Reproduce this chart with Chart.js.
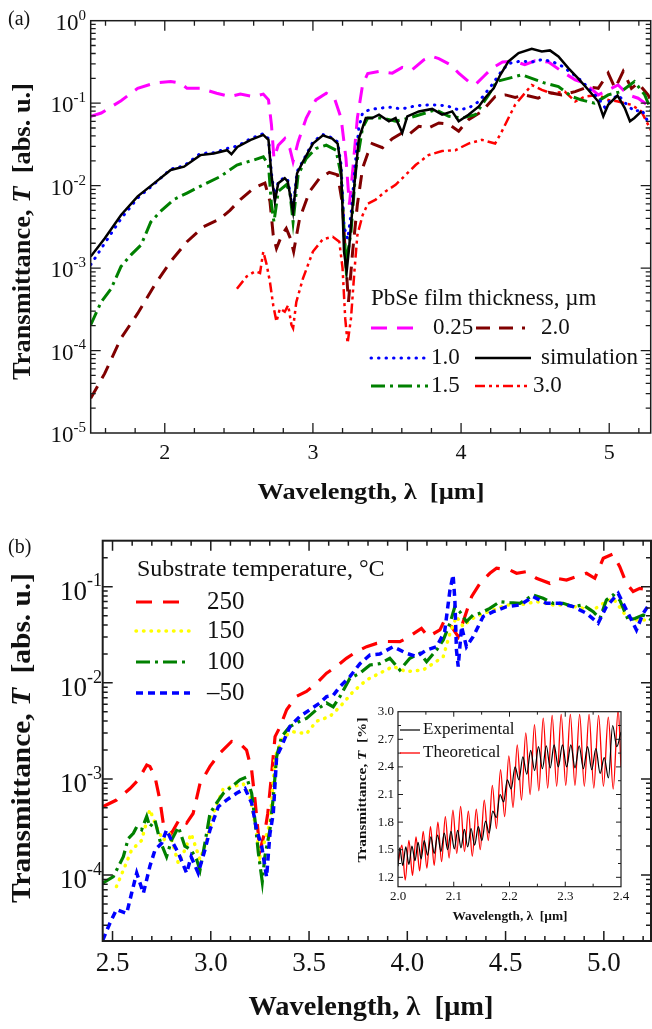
<!DOCTYPE html>
<html>
<head>
<meta charset="utf-8">
<script src="https://cdn.jsdelivr.net/npm/chart.js@4.4.1/dist/chart.umd.min.js"></script>
<style>
  body { margin: 0; background: #fff; }
  #wrap { position: relative; width: 652px; height: 1029px; overflow: hidden; }
  canvas { position: absolute; }
</style>
</head>
<body>
<div id="wrap">
  <canvas id="chartA" width="652" height="520" style="left:0;top:0"></canvas>
  <canvas id="chartB" width="652" height="509" style="left:0;top:520px"></canvas>
  <canvas id="chartIn" width="290" height="240" style="left:340px;top:695px"></canvas>
</div>
<script>
const SERIF = '"Liberation Serif", "Times New Roman", serif'
const f = (size, style = '') => `${style} ${size}px ${SERIF}`.trim()

// (a) PbSe film thickness series: [wavelength um, log10 T]
const film025 = [[1.5,-1.16],[1.571,-1.12],[1.705,-0.97],[1.817,-0.82],[1.93,-0.757],[2.04,-0.737],[2.107,-0.757],[2.15,-0.82],[2.24,-0.82],[2.35,-0.88],[2.44,-0.92],[2.51,-0.89],[2.6,-0.92],[2.665,-0.89],[2.7,-0.96],[2.72,-1.26],[2.737,-1.67],[2.766,-1.51],[2.81,-1.43],[2.844,-1.55],[2.866,-1.71],[2.9,-1.47],[2.955,-1.18],[3.02,-0.96],[3.09,-0.88],[3.145,-0.94],[3.19,-1.18],[3.223,-1.67],[3.246,-2.23],[3.268,-1.83],[3.3,-1.18],[3.335,-0.78],[3.37,-0.64],[3.446,-0.615],[3.536,-0.636],[3.603,-0.567],[3.67,-0.595],[3.749,-0.474],[3.805,-0.433],[3.85,-0.46],[3.928,-0.534],[3.984,-0.636],[4.05,-0.737],[4.096,-0.777],[4.152,-0.676],[4.21,-0.575],[4.28,-0.5],[4.365,-0.494],[4.43,-0.534],[4.5,-0.486],[4.59,-0.5],[4.68,-0.615],[4.77,-0.717],[4.836,-0.757],[4.926,-0.9],[4.993,-0.84],[5.06,-0.78],[5.128,-0.9],[5.195,-0.94],[5.273,-1.04]]
const film10 = [[1.5,-2.96],[1.594,-2.7],[1.705,-2.4],[1.817,-2.15],[1.929,-1.98],[2.04,-1.8],[2.13,-1.76],[2.24,-1.61],[2.33,-1.6],[2.42,-1.55],[2.49,-1.52],[2.58,-1.43],[2.665,-1.37],[2.7,-1.43],[2.72,-1.85],[2.743,-2.15],[2.766,-1.95],[2.81,-1.9],[2.83,-1.93],[2.866,-2.28],[2.893,-1.83],[2.933,-1.7],[3.0,-1.47],[3.067,-1.38],[3.13,-1.42],[3.167,-1.47],[3.19,-1.75],[3.21,-2.5],[3.235,-2.65],[3.26,-2.3],[3.285,-1.75],[3.31,-1.3],[3.335,-1.12],[3.38,-1.08],[3.45,-1.06],[3.52,-1.05],[3.6,-1.07],[3.7,-1.03],[3.8,-1.02],[3.9,-1.03],[3.98,-1.08],[4.05,-1.06],[4.12,-0.98],[4.2,-0.8],[4.27,-0.62],[4.32,-0.52],[4.4,-0.49],[4.48,-0.5],[4.55,-0.47],[4.62,-0.5],[4.68,-0.55],[4.75,-0.64],[4.82,-0.74],[4.88,-0.86],[4.93,-0.95],[4.97,-1.05],[5.0,-0.98],[5.06,-0.9],[5.12,-1.02],[5.17,-1.1],[5.22,-1.08],[5.26,-1.22]]
const film15 = [[1.5,-3.69],[1.571,-3.41],[1.638,-3.25],[1.705,-2.98],[1.772,-2.84],[1.84,-2.72],[1.906,-2.44],[1.973,-2.31],[2.06,-2.17],[2.15,-2.09],[2.26,-1.99],[2.375,-1.89],[2.487,-1.75],[2.6,-1.69],[2.665,-1.65],[2.7,-1.75],[2.72,-2.23],[2.737,-2.44],[2.766,-2.07],[2.82,-1.99],[2.844,-2.07],[2.866,-2.44],[2.9,-1.87],[2.955,-1.67],[3.02,-1.55],[3.09,-1.51],[3.156,-1.57],[3.19,-1.87],[3.223,-2.96],[3.257,-2.56],[3.29,-1.79],[3.335,-1.3],[3.37,-1.18],[3.47,-1.18],[3.558,-1.22],[3.648,-1.18],[3.76,-1.12],[3.827,-1.08],[3.917,-1.16],[4.007,-1.18],[4.096,-1.14],[4.186,-0.9],[4.24,-0.737],[4.32,-0.7],[4.41,-0.656],[4.477,-0.7],[4.567,-0.757],[4.657,-0.8],[4.747,-0.92],[4.81,-0.96],[4.9,-1.0],[4.993,-0.9],[5.08,-0.86],[5.17,-0.737],[5.24,-0.9],[5.285,-1.1]]
const film20 = [[1.5,-4.58],[1.594,-4.28],[1.705,-3.85],[1.817,-3.55],[1.93,-3.21],[2.04,-2.92],[2.15,-2.68],[2.26,-2.5],[2.375,-2.4],[2.44,-2.3],[2.51,-2.17],[2.6,-2.03],[2.676,-1.97],[2.71,-2.19],[2.732,-2.6],[2.754,-2.76],[2.79,-2.6],[2.82,-2.52],[2.848,-2.64],[2.87,-2.8],[2.91,-2.4],[2.978,-2.07],[3.045,-1.91],[3.11,-1.84],[3.167,-1.87],[3.2,-2.23],[3.223,-2.96],[3.24,-3.41],[3.268,-2.8],[3.3,-2.23],[3.335,-1.79],[3.37,-1.61],[3.4,-1.49],[3.47,-1.54],[3.536,-1.43],[3.603,-1.36],[3.648,-1.38],[3.715,-1.28],[3.78,-1.3],[3.85,-1.24],[3.917,-1.255],[3.984,-1.34],[4.05,-1.2],[4.14,-1.1],[4.23,-0.92],[4.3,-0.9],[4.365,-0.93],[4.43,-0.9],[4.52,-0.94],[4.59,-0.87],[4.68,-0.9],[4.77,-0.86],[4.86,-0.8],[4.926,-0.82],[4.993,-0.636],[5.04,-0.82],[5.094,-0.615],[5.15,-0.82],[5.195,-0.757],[5.262,-0.9],[5.285,-0.98]]
const film30 = [[2.487,-3.25],[2.554,-3.1],[2.61,-3.04],[2.643,-3.06],[2.665,-2.8],[2.688,-2.96],[2.71,-3.17],[2.732,-3.45],[2.754,-3.65],[2.777,-3.49],[2.81,-3.53],[2.833,-3.45],[2.855,-3.69],[2.866,-3.73],[2.888,-3.41],[2.933,-3.125],[3.0,-2.8],[3.067,-2.65],[3.134,-2.62],[3.178,-2.68],[3.2,-3.0],[3.218,-3.61],[3.234,-3.91],[3.257,-3.61],[3.28,-3.04],[3.3,-2.6],[3.335,-2.36],[3.37,-2.22],[3.424,-2.17],[3.49,-2.07],[3.558,-1.99],[3.626,-1.87],[3.693,-1.75],[3.78,-1.63],[3.872,-1.58],[3.962,-1.57],[4.05,-1.49],[4.14,-1.445],[4.23,-1.49],[4.276,-1.34],[4.32,-1.18],[4.365,-1.02],[4.43,-0.88],[4.477,-0.78],[4.545,-0.84],[4.61,-0.88],[4.7,-0.86],[4.77,-0.98],[4.836,-0.92],[4.926,-0.9],[4.993,-0.96],[5.06,-0.98],[5.15,-1.02],[5.217,-1.1],[5.285,-1.34]]
const simulation = [[1.5,-2.86],[1.594,-2.64],[1.705,-2.356],[1.817,-2.13],[1.929,-1.97],[2.04,-1.81],[2.13,-1.77],[2.24,-1.63],[2.33,-1.61],[2.42,-1.57],[2.45,-1.62],[2.49,-1.53],[2.58,-1.445],[2.665,-1.385],[2.7,-1.445],[2.72,-1.87],[2.743,-2.19],[2.766,-1.97],[2.81,-1.91],[2.83,-1.95],[2.866,-2.32],[2.893,-1.85],[2.933,-1.71],[3.0,-1.49],[3.067,-1.39],[3.13,-1.43],[3.167,-1.49],[3.19,-1.79],[3.21,-2.8],[3.228,-3.04],[3.246,-2.72],[3.28,-1.99],[3.31,-1.43],[3.357,-1.18],[3.4,-1.18],[3.446,-1.14],[3.513,-1.22],[3.558,-1.18],[3.603,-1.36],[3.637,-1.16],[3.715,-1.1],[3.805,-1.07],[3.872,-1.14],[3.94,-1.1],[3.984,-1.22],[4.05,-1.14],[4.12,-1.04],[4.16,-0.94],[4.22,-0.82],[4.265,-0.656],[4.32,-0.494],[4.388,-0.393],[4.477,-0.34],[4.545,-0.372],[4.6,-0.36],[4.657,-0.433],[4.724,-0.575],[4.79,-0.7],[4.86,-0.84],[4.926,-0.98],[4.96,-1.16],[4.993,-1.02],[5.056,-0.907],[5.105,-1.06],[5.14,-1.22],[5.17,-1.18],[5.217,-1.1]]

// (b) substrate temperature series: [wavelength um, log10 T]
const temp250 = [[2.45,-3.29],[2.52,-3.22],[2.589,-3.1],[2.631,-3.01],[2.674,-2.855],[2.69,-2.87],[2.716,-2.977],[2.741,-3.22],[2.758,-3.46],[2.8,-3.566],[2.843,-3.41],[2.877,-3.46],[2.91,-3.36],[2.945,-3.05],[2.996,-2.87],[3.047,-2.73],[3.106,-2.61],[3.148,-2.63],[3.182,-2.7],[3.208,-2.91],[3.225,-3.22],[3.25,-3.75],[3.275,-3.55],[3.29,-3.36],[3.31,-2.94],[3.327,-2.56],[3.352,-2.46],[3.386,-2.28],[3.437,-2.14],[3.487,-2.09],[3.538,-2.005],[3.589,-1.9],[3.64,-1.83],[3.69,-1.745],[3.742,-1.675],[3.793,-1.624],[3.844,-1.59],[3.894,-1.57],[3.962,-1.572],[3.996,-1.537],[4.072,-1.433],[4.106,-1.52],[4.166,-1.45],[4.19,-1.346],[4.225,-1.415],[4.259,-1.52],[4.293,-1.31],[4.327,-1.103],[4.37,-0.965],[4.42,-0.86],[4.454,-0.808],[4.522,-0.826],[4.556,-0.86],[4.606,-0.843],[4.657,-0.912],[4.725,-0.965],[4.759,-0.912],[4.81,-0.93],[4.86,-0.895],[4.912,-0.86],[4.954,-0.912],[4.997,-0.704],[5.047,-0.66],[5.081,-0.791],[5.115,-0.965],[5.149,-1.05],[5.183,-1.017],[5.234,-1.034]]
const temp150 = [[2.52,-4.12],[2.555,-3.95],[2.597,-3.74],[2.648,-3.64],[2.69,-3.32],[2.724,-3.5],[2.758,-3.64],[2.792,-3.57],[2.835,-3.88],[2.868,-3.74],[2.9,-3.57],[2.945,-3.84],[2.979,-3.64],[3.013,-3.36],[3.064,-3.1],[3.114,-3.08],[3.165,-3.05],[3.199,-3.18],[3.225,-3.46],[3.25,-3.81],[3.275,-3.64],[3.301,-3.46],[3.327,-2.77],[3.369,-2.56],[3.42,-2.51],[3.487,-2.53],[3.538,-2.4],[3.606,-2.35],[3.657,-2.25],[3.725,-2.09],[3.793,-1.97],[3.86,-1.9],[3.928,-1.83],[3.996,-1.884],[4.081,-1.866],[4.132,-1.8],[4.183,-1.727],[4.217,-1.485],[4.25,-1.31],[4.284,-1.415],[4.318,-1.346],[4.369,-1.294],[4.437,-1.242],[4.505,-1.19],[4.573,-1.19],[4.657,-1.155],[4.742,-1.19],[4.81,-1.19],[4.895,-1.225],[4.946,-1.242],[4.997,-1.173],[5.047,-1.12],[5.115,-1.31],[5.166,-1.346],[5.217,-1.346]]
const temp100 = [[2.45,-4.086],[2.504,-4.017],[2.555,-3.81],[2.58,-3.62],[2.606,-3.566],[2.623,-3.5],[2.648,-3.53],[2.674,-3.39],[2.69,-3.5],[2.716,-3.43],[2.741,-3.64],[2.775,-3.81],[2.8,-3.64],[2.835,-3.5],[2.868,-3.7],[2.9,-3.74],[2.928,-3.84],[2.945,-3.95],[2.97,-3.67],[2.996,-3.36],[3.03,-3.25],[3.064,-3.15],[3.106,-3.08],[3.148,-3.01],[3.182,-2.98],[3.208,-3.15],[3.225,-3.43],[3.242,-3.77],[3.262,-4.07],[3.275,-3.81],[3.301,-3.53],[3.318,-3.19],[3.335,-2.77],[3.36,-2.56],[3.402,-2.456],[3.453,-2.4],[3.487,-2.37],[3.538,-2.28],[3.589,-2.21],[3.623,-2.25],[3.657,-2.144],[3.708,-1.953],[3.759,-1.9],[3.81,-1.814],[3.86,-1.8],[3.911,-1.745],[3.962,-1.866],[4.013,-1.745],[4.064,-1.693],[4.098,-1.78],[4.149,-1.658],[4.183,-1.554],[4.217,-1.38],[4.242,-1.207],[4.267,-1.26],[4.301,-1.363],[4.335,-1.294],[4.369,-1.277],[4.42,-1.225],[4.471,-1.155],[4.522,-1.166],[4.573,-1.173],[4.64,-1.086],[4.691,-1.12],[4.742,-1.173],[4.793,-1.173],[4.844,-1.207],[4.895,-1.19],[4.946,-1.26],[4.98,-1.33],[5.013,-1.138],[5.047,-1.086],[5.081,-1.138],[5.124,-1.346],[5.158,-1.33],[5.2,-1.294],[5.242,-1.346]]
const tempM50 = [[2.45,-4.68],[2.487,-4.5],[2.52,-4.36],[2.572,-4.4],[2.597,-4.19],[2.623,-3.98],[2.657,-4.19],[2.69,-3.91],[2.716,-3.74],[2.75,-3.67],[2.775,-3.53],[2.8,-3.64],[2.835,-3.77],[2.877,-3.98],[2.9,-3.81],[2.936,-3.98],[2.97,-3.74],[2.996,-3.53],[3.038,-3.29],[3.08,-3.22],[3.131,-3.15],[3.174,-3.1],[3.208,-3.25],[3.233,-3.53],[3.259,-3.7],[3.284,-4.02],[3.301,-3.57],[3.318,-3.36],[3.335,-2.77],[3.36,-2.66],[3.402,-2.456],[3.453,-2.35],[3.504,-2.28],[3.555,-2.21],[3.589,-2.144],[3.623,-2.13],[3.657,-2.04],[3.708,-1.936],[3.759,-1.8],[3.81,-1.71],[3.86,-1.7],[3.928,-1.624],[3.996,-1.693],[4.047,-1.727],[4.098,-1.658],[4.149,-1.624],[4.19,-1.468],[4.217,-1.034],[4.233,-0.878],[4.242,-1.138],[4.25,-1.658],[4.259,-1.832],[4.276,-1.415],[4.301,-1.624],[4.335,-1.52],[4.386,-1.31],[4.437,-1.26],[4.505,-1.207],[4.573,-1.19],[4.64,-1.103],[4.708,-1.173],[4.776,-1.173],[4.844,-1.207],[4.912,-1.277],[4.971,-1.38],[5.013,-1.207],[5.073,-1.069],[5.115,-1.242],[5.166,-1.45],[5.2,-1.277],[5.234,-1.173]]

// inset: [wavelength um, T %]
const experimental = [[2.0,1.32],[2.003,1.52],[2.0085,1.33],[2.014,1.53],[2.0195,1.34],[2.025,1.54],[2.0305,1.38],[2.036,1.58],[2.0415,1.4],[2.047,1.6],[2.053,1.44],[2.059,1.64],[2.065,1.46],[2.071,1.66],[2.077,1.48],[2.083,1.68],[2.089,1.5],[2.095,1.7],[2.101,1.51],[2.107,1.71],[2.113,1.52],[2.119,1.72],[2.125,1.53],[2.131,1.73],[2.1375,1.55],[2.144,1.75],[2.1505,1.6],[2.157,1.81],[2.1635,1.68],[2.17,1.92],[2.1765,1.85],[2.183,2.1],[2.1895,2.02],[2.196,2.26],[2.203,2.16],[2.21,2.4],[2.217,2.26],[2.224,2.51],[2.231,2.32],[2.238,2.58],[2.245,2.36],[2.252,2.62],[2.259,2.38],[2.266,2.63],[2.273,2.39],[2.28,2.64],[2.2875,2.4],[2.295,2.64],[2.3025,2.4],[2.31,2.64],[2.3175,2.39],[2.325,2.63],[2.3325,2.38],[2.34,2.62],[2.3475,2.37],[2.355,2.6],[2.3625,2.33],[2.37,2.5],[2.3775,2.28],[2.385,2.85],[2.3925,2.62],[2.4,2.78]]
const theoretical = [[2.0,1.35],[2.007,1.55],[2.013,1.17],[2.0196,1.6],[2.026,1.22],[2.0323,1.64],[2.0388,1.27],[2.0452,1.7],[2.0518,1.3],[2.0583,1.75],[2.0649,1.33],[2.0715,1.8],[2.0782,1.37],[2.0849,1.86],[2.0917,1.41],[2.0985,1.93],[2.1054,1.46],[2.1123,1.97],[2.1193,1.48],[2.1262,1.92],[2.1333,1.43],[2.1404,1.94],[2.1475,1.5],[2.1547,2.04],[2.162,1.6],[2.1692,2.2],[2.1765,1.73],[2.1839,2.37],[2.1913,1.86],[2.1988,2.52],[2.2063,1.96],[2.2139,2.64],[2.2215,2.04],[2.2292,2.77],[2.237,2.1],[2.2448,2.86],[2.2526,2.14],[2.2605,2.93],[2.2685,2.17],[2.2765,2.96],[2.2846,2.19],[2.2927,2.97],[2.3009,2.2],[2.3091,2.97],[2.3174,2.2],[2.3258,2.97],[2.3342,2.19],[2.3427,2.97],[2.3512,2.17],[2.3598,2.96],[2.3685,2.19],[2.3772,2.94],[2.386,2.16],[2.3949,3.02],[2.4,2.4]]

const aXTicks = [2, 3, 4, 5]
const aYExp = [0, -1, -2, -3, -4, -5]
const bXTicks = ['2.5', '3.0', '3.5', '4.0', '4.5', '5.0']
const bYExp = [-1, -2, -3, -4]
const inXTicks = ['2.0', '2.1', '2.2', '2.3', '2.4']
const inYTicks = ['1.2', '1.5', '1.8', '2.1', '2.4', '2.7', '3.0']

const range = (a, b, s) => {
  const out = []
  for (let v = a; v <= b + 1e-9; v += s) out.push(+v.toFixed(4))
  return out
}
const logMinor = () => {
  const out = []
  for (let e = -5; e < 0; e++) for (let k = 2; k < 10; k++) out.push(k * Math.pow(10, e))
  return out
}

function logSeries(label, pts, color, dash, width, cap) {
  return {
    label,
    data: pts.map(([x, e]) => ({ x, y: Math.pow(10, e) })),
    borderColor: color,
    borderDash: dash,
    borderWidth: width,
    borderCapStyle: cap || 'butt',
    pointRadius: 0,
    tension: 0
  }
}

function runs(ctx, parts, cx, cy, rot, fitW) {
  ctx.save()
  ctx.translate(cx, cy)
  if (rot) ctx.rotate(rot)
  let w = 0
  parts.forEach(([t, font]) => { ctx.font = font; w += ctx.measureText(t).width })
  if (fitW) ctx.scale(fitW / w, 1)
  let xx = -w / 2
  ctx.textAlign = 'left'
  ctx.textBaseline = 'middle'
  parts.forEach(([t, font]) => {
    ctx.font = font
    ctx.fillText(t, xx, 0)
    xx += ctx.measureText(t).width
  })
  ctx.restore()
}

function pow10(ctx, right, py, e, big, small, d10, dExp) {
  const exp = String(e)
  ctx.textAlign = 'right'
  ctx.textBaseline = 'middle'
  ctx.font = f(small)
  const w = ctx.measureText(exp).width
  ctx.fillText(exp, right, py + dExp)
  ctx.font = f(big)
  ctx.fillText('10', right - w, py + d10)
}

function sample(ctx, d, x1, x2, y) {
  ctx.save()
  ctx.strokeStyle = d.borderColor
  ctx.lineWidth = d.borderWidth
  ctx.lineCap = d.borderCapStyle || 'butt'
  ctx.setLineDash(d.borderDash || [])
  ctx.beginPath()
  ctx.moveTo(x1, y)
  ctx.lineTo(x2, y)
  ctx.stroke()
  ctx.restore()
}

function frame(opts) {
  return {
    id: 'frame',
    beforeDatasetsDraw(chart) {
      if (!opts.white) return
      const { ctx, chartArea: a } = chart
      ctx.save()
      ctx.fillStyle = '#fff'
      ctx.fillRect(a.left, a.top, a.width, a.height)
      ctx.restore()
    },
    afterDraw(chart) {
      const { ctx, chartArea: a, scales } = chart
      ctx.save()
      ctx.strokeStyle = '#1c1c1c'
      ctx.setLineDash([])
      ctx.lineWidth = opts.lw
      ctx.strokeRect(a.left, a.top, a.width, a.height)
      ctx.lineWidth = opts.tw
      ctx.beginPath()
      const xTick = (v, len) => {
        const p = scales.x.getPixelForValue(v)
        if (p < a.left + 1 || p > a.right - 1) return
        ctx.moveTo(p, a.bottom); ctx.lineTo(p, a.bottom - len)
        ctx.moveTo(p, a.top); ctx.lineTo(p, a.top + len)
      }
      const yTick = (v, len) => {
        const p = scales.y.getPixelForValue(v)
        if (p < a.top + 1 || p > a.bottom - 1) return
        ctx.moveTo(a.left, p); ctx.lineTo(a.left + len, p)
        ctx.moveTo(a.right, p); ctx.lineTo(a.right - len, p)
      }
      opts.xMinor.forEach(v => xTick(v, opts.minor))
      opts.xMajor.forEach(v => xTick(v, opts.major))
      opts.yMinor.forEach(v => yTick(v, opts.minor))
      opts.yMajor.forEach(v => yTick(v, opts.major))
      ctx.stroke()
      ctx.fillStyle = '#111'
      opts.text(ctx, chart)
      ctx.restore()
    }
  }
}

const byLabel = (chart, l) => chart.data.datasets.find(d => d.label === l)

// ---- panel (a)
new Chart(document.getElementById('chartA'), {
  type: 'line',
  data: {
    datasets: [
      logSeries('simulation', simulation, '#000000', [], 2.5),
      logSeries('1.0', film10, '#0000ff', [0.5, 7], 3, 'round'),
      logSeries('1.5', film15, '#008000', [14, 5, 3, 5], 3),
      logSeries('0.25', film025, '#ff00ff', [16, 10], 3),
      logSeries('2.0', film20, '#800000', [14, 9], 3),
      logSeries('3.0', film30, '#ff0000', [10, 4, 3, 4, 3, 4], 2.5)
    ]
  },
  options: {
    responsive: false,
    animation: false,
    devicePixelRatio: 1,
    layout: { padding: { left: 90.7, top: 20.7, right: 1.3, bottom: 87 } },
    scales: {
      x: { type: 'linear', min: 1.5, max: 5.28, display: false },
      y: { type: 'logarithmic', min: 1e-5, max: 1, display: false }
    },
    plugins: { legend: { display: false }, tooltip: { enabled: false } }
  },
  plugins: [frame({
    lw: 1.5, tw: 1.3, major: 10, minor: 5,
    xMajor: aXTicks, xMinor: range(1.6, 5.2, 0.2),
    yMajor: aYExp.map(e => Math.pow(10, e)), yMinor: logMinor(),
    text(ctx, chart) {
      const { x, y } = chart.scales
      ctx.textBaseline = 'middle'
      ctx.textAlign = 'left'
      ctx.font = f(20)
      ctx.fillText('(a)', 8, 20)
      ctx.textAlign = 'center'
      ctx.font = f(22)
      aXTicks.forEach(v => ctx.fillText(String(v), x.getPixelForValue(v), 453))
      aYExp.forEach(e => pow10(ctx, 86, y.getPixelForValue(Math.pow(10, e)), e, 23, 15, 3, -5))
      runs(ctx, [['Wavelength, λ  [µm]', f(24, 'bold')]], 371, 493, 0, 227)
      runs(ctx, [['Transmittance, ', f(25, 'bold')], ['T', f(25, 'italic bold')], ['  [abs. u.]', f(25, 'bold')]], 24, 231.5, -Math.PI / 2, 297)
      ctx.textAlign = 'left'
      ctx.font = f(23)
      ctx.fillText('PbSe film thickness, µm', 371, 299)
      const rows = [
        ['0.25', 371, 418, 328, 433], ['2.0', 476, 525, 328, 541],
        ['1.0', 371, 428, 358, 431], ['simulation', 475, 531, 358, 541],
        ['1.5', 371, 428, 386, 431], ['3.0', 475, 531, 386, 533]
      ]
      rows.forEach(([l, x1, x2, yy, tx]) => {
        sample(ctx, byLabel(chart, l), x1, x2, yy)
        ctx.fillStyle = '#111'
        ctx.font = f(23)
        ctx.textAlign = 'left'
        ctx.fillText(l, tx, yy)
      })
    }
  })]
})

// ---- panel (b)
new Chart(document.getElementById('chartB'), {
  type: 'line',
  data: {
    datasets: [
      logSeries('–50', tempM50, '#0000ff', [7, 5], 3.5),
      logSeries('100', temp100, '#008000', [14, 5, 3, 5], 3.2),
      logSeries('150', temp150, '#ffff00', [0.5, 7], 3.5, 'round'),
      logSeries('250', temp250, '#ff0000', [16, 11], 3.2)
    ]
  },
  options: {
    responsive: false,
    animation: false,
    devicePixelRatio: 1,
    layout: { padding: { left: 102.7, top: 20.7, right: 1, bottom: 88 } },
    scales: {
      x: { type: 'linear', min: 2.45, max: 5.24, display: false },
      y: { type: 'logarithmic', min: Math.pow(10, -4.687), max: Math.pow(10, -0.521), display: false }
    },
    plugins: { legend: { display: false }, tooltip: { enabled: false } }
  },
  plugins: [frame({
    lw: 2, tw: 1.5, major: 10, minor: 5,
    xMajor: bXTicks.map(Number), xMinor: range(2.5, 5.2, 0.1),
    yMajor: bYExp.map(e => Math.pow(10, e)), yMinor: logMinor(),
    text(ctx, chart) {
      const { x, y } = chart.scales
      ctx.textBaseline = 'middle'
      ctx.textAlign = 'left'
      ctx.font = f(20)
      ctx.fillText('(b)', 8, 28)
      ctx.textAlign = 'center'
      ctx.font = f(27)
      bXTicks.forEach(t => ctx.fillText(t, x.getPixelForValue(Number(t)), 444))
      bYExp.forEach(e => pow10(ctx, 102, y.getPixelForValue(Math.pow(10, e)), e, 27, 18, 6, -5))
      runs(ctx, [['Wavelength, λ  [µm]', f(27, 'bold')]], 371, 488, 0, 245)
      runs(ctx, [['Transmittance, ', f(28, 'bold')], ['T', f(28, 'italic bold')], ['  [abs. u.]', f(28, 'bold')]], 23, 218, -Math.PI / 2, 330)
      ctx.textAlign = 'left'
      ctx.font = f(24)
      ctx.fillText('Substrate temperature, °C', 137, 50)
      const rows = [['250', 82], ['150', 111], ['100', 142], ['–50', 173]]
      rows.forEach(([l, yy]) => {
        sample(ctx, byLabel(chart, l), 136, 190, yy)
        ctx.fillStyle = '#111'
        ctx.font = f(25)
        ctx.textAlign = 'left'
        ctx.fillText(l, 207, yy)
      })
    }
  })]
})

// ---- inset
new Chart(document.getElementById('chartIn'), {
  type: 'line',
  data: {
    datasets: [
      { label: 'Experimental', data: experimental.map(([x, y]) => ({ x, y })), borderColor: '#000000', borderWidth: 1.2, pointRadius: 0, cubicInterpolationMode: 'monotone' },
      { label: 'Theoretical', data: theoretical.map(([x, y]) => ({ x, y })), borderColor: '#ff0000', borderWidth: 1.3, pointRadius: 0, cubicInterpolationMode: 'monotone' }
    ]
  },
  options: {
    responsive: false,
    animation: false,
    devicePixelRatio: 1,
    layout: { padding: { left: 58, top: 16.7, right: 9, bottom: 48.3 } },
    scales: {
      x: { type: 'linear', min: 2.0, max: 2.4, display: false },
      y: { type: 'linear', min: 1.098, max: 3.0, display: false }
    },
    plugins: { legend: { display: false }, tooltip: { enabled: false } }
  },
  plugins: [frame({
    white: true, lw: 1.2, tw: 1, major: 5, minor: 3,
    xMajor: inXTicks.map(Number), xMinor: range(2.05, 2.35, 0.1),
    yMajor: inYTicks.map(Number), yMinor: range(1.35, 2.85, 0.3),
    text(ctx, chart) {
      const { x, y } = chart.scales
      ctx.textBaseline = 'middle'
      ctx.textAlign = 'center'
      ctx.font = f(13)
      inXTicks.forEach(t => ctx.fillText(t, x.getPixelForValue(Number(t)), 202))
      ctx.textAlign = 'right'
      inYTicks.forEach(t => ctx.fillText(t, 54, y.getPixelForValue(Number(t))))
      runs(ctx, [['Wavelength, λ  [µm]', f(12, 'bold')]], 170, 222, 0, 115)
      runs(ctx, [['Transmittance, ', f(12, 'bold')], ['T', f(12, 'italic bold')], ['  [%]', f(12, 'bold')]], 22.5, 95, -Math.PI / 2, 145)
      const rows = [['Experimental', 35], ['Theoretical', 58]]
      rows.forEach(([l, yy]) => {
        sample(ctx, byLabel(chart, l), 60, 80, yy)
        ctx.fillStyle = '#111'
        ctx.font = f(17)
        ctx.textAlign = 'left'
        ctx.fillText(l, 83, yy)
      })
    }
  })]
})
</script>
</body>
</html>
